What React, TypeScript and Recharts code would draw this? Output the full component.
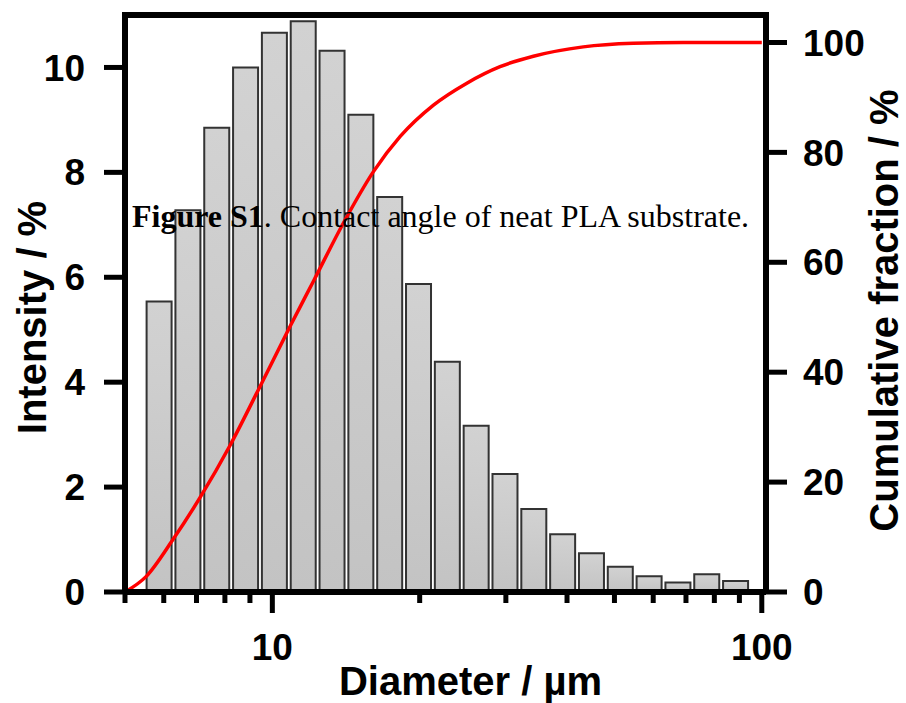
import React from 'react';
import { ComposedChart, Bar, Line, XAxis, YAxis, ReferenceLine, Label } from 'recharts';

// Histogram bins (geometric bin centres, µm) and intensity (%)
const binDiameter = [5.88, 6.73, 7.71, 8.82, 10.1, 11.57, 13.25, 15.16, 17.36, 19.88, 22.76, 26.06, 29.84, 34.16, 39.11, 44.78, 51.27, 58.7, 67.21, 76.94, 88.09];
const intensity = [5.54, 7.28, 8.85, 10.0, 10.66, 10.88, 10.32, 9.1, 7.53, 5.87, 4.39, 3.17, 2.25, 1.58, 1.1, 0.74, 0.48, 0.3, 0.18, 0.34, 0.21];

// Cumulative fraction curve
const curveDiameter = [5.0, 5.52, 6.26, 7.13, 8.21, 9.45, 10.88, 12.14, 13.98, 16.09, 18.25, 21.34, 24.97, 29.19, 34.15, 43.18, 54.62, 69.08, 100];
const cumulative = [0, 2.8, 9.5, 17.3, 26.8, 37.5, 48.4, 56.6, 67.2, 76.5, 82.9, 88.6, 92.6, 95.6, 97.5, 99.2, 99.85, 100.0, 100.0];

// Axis ticks
const xTicks = [5, 6, 7, 8, 9, 10, 20, 30, 40, 50, 60, 70, 80, 90, 100];
const xMajor = [10, 100];
const leftTicks = [0, 2, 4, 6, 8, 10];
const rightTicks = [0, 20, 40, 60, 80, 100];

const caption = { bold: 'Figure S1', rest: '. Contact angle of neat PLA substrate.' };

const barData = binDiameter.map((d, i) => ({ d, v: intensity[i] }));
const curveData = curveDiameter.map((d, i) => ({ d, c: cumulative[i] }));

const SANS = "'Liberation Sans', Arial, Helvetica, sans-serif";
const SERIF = "'Liberation Serif', 'Times New Roman', serif";

const XTick = (props: any) => {
  const { x, y, payload } = props;
  const v = payload.value;
  const major = xMajor.includes(v);
  return (
    <g>
      <line x1={x} y1={y} x2={x} y2={y + (major ? 21 : 11)} stroke="#000" strokeWidth={5} />
      {major && (
        <text x={x} y={y + 68} textAnchor="middle" fontFamily={SANS} fontWeight="bold" fontSize={37} fill="#000">
          {v}
        </text>
      )}
    </g>
  );
};

const tickStyle = { fill: '#000', fontSize: 37, fontWeight: 'bold', fontFamily: SANS } as any;

export default function App() {
  return (
    <div style={{ position: 'absolute', left: 0, top: 0, width: 906, height: 703, background: '#fff' }}>
      <ComposedChart width={906} height={703} data={barData} margin={{ top: 15, right: 0, bottom: 0, left: 0 }}>
        <defs>
          <linearGradient id="barGrad" x1="0" y1="0" x2="0" y2="1">
            <stop offset="0%" stopColor="#d2d2d2" />
            <stop offset="100%" stopColor="#c3c3c3" />
          </linearGradient>
        </defs>
        <XAxis xAxisId="bins" dataKey="d" type="category" hide height={0} padding={{ left: 19.6, right: 16.1 }} />
        <XAxis
          xAxisId="diam"
          dataKey="d"
          type="number"
          scale="log"
          domain={[5, 102]}
          allowDataOverflow
          ticks={xTicks}
          interval={0}
          tick={<XTick />}
          tickLine={false}
          tickSize={0}
          tickMargin={0}
          height={111}
          axisLine={{ stroke: '#000', strokeWidth: 6 }}
        >
          <Label
            value="Diameter / µm"
            position="center"
            dx={25}
            dy={33}
            style={{ fontFamily: SANS, fontWeight: 'bold', fontSize: 40, fill: '#000' }}
          />
        </XAxis>
        <YAxis
          yAxisId="left"
          orientation="left"
          domain={[0, 11]}
          ticks={leftTicks}
          interval={0}
          width={125}
          tick={tickStyle}
          tickSize={21}
          tickMargin={19}
          tickLine={{ stroke: '#000', strokeWidth: 5 }}
          axisLine={{ stroke: '#000', strokeWidth: 6 }}
        >
          <Label
            value="Intensity / %"
            position="center"
            angle={-90}
            dx={-31}
            dy={14}
            style={{ fontFamily: SANS, fontWeight: 'bold', fontSize: 40, fill: '#000' }}
          />
        </YAxis>
        <YAxis
          yAxisId="right"
          orientation="right"
          domain={[0, 105]}
          ticks={rightTicks}
          interval={0}
          width={140}
          tick={tickStyle}
          tickSize={21}
          tickMargin={16}
          tickLine={{ stroke: '#000', strokeWidth: 5 }}
          axisLine={{ stroke: '#000', strokeWidth: 6 }}
        >
          <Label
            value="Cumulative fraction / %"
            position="center"
            angle={-90}
            dx={48}
            dy={7}
            style={{ fontFamily: SANS, fontWeight: 'bold', fontSize: 40, fill: '#000' }}
          />
        </YAxis>
        <ReferenceLine xAxisId="diam" yAxisId="left" y={11} stroke="#000" strokeWidth={6} strokeLinecap="square" />
        <Bar
          xAxisId="bins"
          yAxisId="left"
          dataKey="v"
          barSize={25}
          fill="url(#barGrad)"
          stroke="#333"
          strokeWidth={2}
          isAnimationActive={false}
        />
        <Line
          xAxisId="diam"
          yAxisId="right"
          data={curveData}
          dataKey="c"
          type="monotone"
          stroke="#ff0000"
          strokeWidth={3.5}
          dot={false}
          activeDot={false}
          isAnimationActive={false}
        />
      </ComposedChart>
      <svg width={906} height={703} style={{ position: 'absolute', left: 0, top: 0, pointerEvents: 'none' }}>
        <text x={132} y={227} fontFamily={SERIF} fontSize={32} fill="#000">
          <tspan fontWeight="bold">{caption.bold}</tspan>
          {caption.rest}
        </text>
      </svg>
    </div>
  );
}
